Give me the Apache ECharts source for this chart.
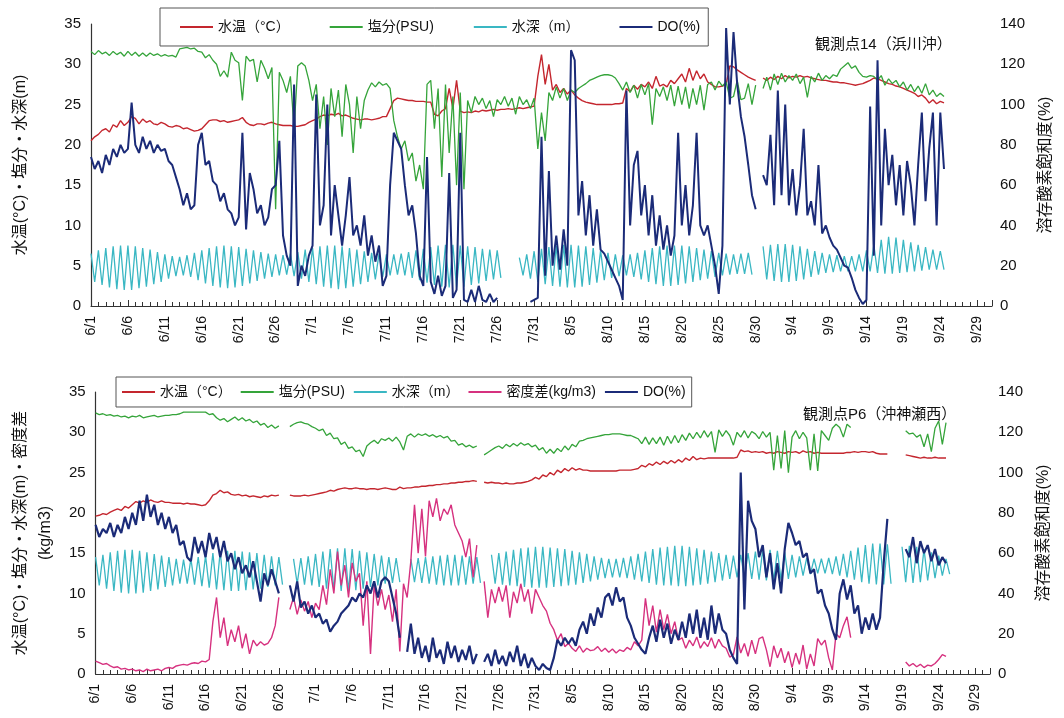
<!DOCTYPE html>
<html>
<head>
<meta charset="utf-8">
<script src="https://cdn.jsdelivr.net/npm/echarts@6/dist/echarts.min.js"></script>
<style>
  html, body { margin: 0; padding: 0; background: #fff; }
  #main { width: 1064px; height: 718px; }
</style>
</head>
<body>
<div id="main"></div>
<script>
// x軸の目盛ラベル (6/1 = 0日目, 5日ごと)
var tickLabels = ['6/1','6/6','6/11','6/16','6/21','6/26','7/1','7/6','7/11','7/16','7/21','7/26',
  '7/31','8/5','8/10','8/15','8/20','8/25','8/30','9/4','9/9','9/14','9/19','9/24','9/29'];

// ---- 観測点14(浜川沖) : 0.5日ごとの値 ----
var topTemp = [
  20.5,21,21.3,21.8,22,21.6,22.5,22.2,23,22.4,
  22.8,23.5,23.3,22.6,23.2,22.8,23,22.6,22.5,22.8,
  22.6,22.3,22.2,22.4,22.3,22,22.1,21.9,21.7,21.8,
  22,22.5,23,23.1,23.1,22.9,23,22.8,22.9,23,
  23.1,23.4,22.8,22.5,22.4,22.6,22.6,22.5,22.7,22.8,
  22.6,22.5,22.4,22.4,22.4,22.3,22.3,22.4,22.5,22.8,
  23,23.2,23.5,23.7,23.6,23.8,23.7,23.9,23.6,23.7,
  23.5,23.3,23.2,23.1,23.2,23.2,23.1,23.2,23.3,23.5,
  23.5,24.5,25.5,25.8,25.7,25.6,25.5,25.5,25.4,25.4,
  25.4,25.3,25.3,23.8,23.6,24.2,24.5,27,24.5,28,
  24.2,24,24.1,24,24.2,24.1,24.3,24.2,24.3,24.4,
  24.3,24.4,24.4,24.5,24.4,24.5,24.6,24.5,24.6,24.7,
  24.8,28.5,31.2,27.5,30,26.8,27.5,26.5,27,26.3,
  26.8,26.2,25.8,25.5,25.3,25.2,25.1,25,25,25,
  25,25,25.1,25.1,25.2,27,26.6,27.4,26.9,27.5,
  27.2,27.8,27,28.5,27.3,27.5,27.2,28,27.6,28.2,
  28.8,27.8,29.5,28,29.2,28.2,28.8,27.8,27.5,27.2,
  27.2,27.3,27.5,29.8,29.7,29.3,29,28.7,28.4,28.2,
  28,null,28.3,28,28.4,28.1,28.5,28.2,28.6,28.3,
  28.5,28.4,28.6,28.4,28.5,28.3,28.2,28.1,28,28,
  27.9,27.8,27.8,27.7,27.7,27.6,27.5,27.4,27.5,27.6,
  27.8,28,28.3,28.2,28,27.8,27.6,27.5,27.3,27.2,
  27,26.8,26.6,26.4,26,26.2,25.8,25.2,25.6,25.1,
  25.4,25.2
];
var topSal = [
  31.6,31.2,31.7,31.3,31.5,31.1,31.6,31.2,31.5,31,
  31.6,31.1,31.5,31,31.4,31,31.4,31.1,31.3,31,
  31.2,31,31.1,30.9,31.9,32,32.1,31.9,32,31.6,
  31.5,30.8,31.2,30.5,30,28.5,29.2,28.4,31.5,30.5,
  30.2,25.5,31,30.4,30.6,27.8,30.5,29.5,28.2,29.6,
  12,29,28,26.5,28.5,22,29.8,30.2,29.8,28,
  25.5,27.5,22,26,20,27,23.5,26.8,21,27.5,
  25,19,26,22,25.5,26.8,27.7,27.2,27.8,27.4,
  27.6,27,23,21,19.5,20.5,18,19,15.5,17.5,
  14.5,27.5,28,22,27,16,27.5,19,26,15,
  26.5,14.5,25.5,24,26,25,25.8,24.5,25.5,23.5,
  25.6,25,26,24.8,25.8,23.8,26,25,25.6,24.5,
  25.8,19.5,24,20.5,26.5,25.5,27.2,25.8,27,25.5,
  26.8,26.5,27,27.3,27.6,28,28.2,28.4,28.6,28.7,
  28.7,28.6,28.3,27.6,26.8,27.8,26.5,27.4,25.8,27.5,
  26.2,27.6,22.5,27,26,27.2,25.5,27.4,24.8,27.3,
  25,27.2,24.5,27,25,27.4,24.3,27.5,27.8,26.8,
  27.9,27.3,27.8,25.8,26,28,25.6,25.8,27.6,25,
  27.4,null,27,28.4,26.8,28.8,27.5,28.9,27.8,28.6,
  28,28.8,27.6,28.4,25.9,28.5,27.8,28.9,28,28.6,
  28.2,28.7,28.5,29.4,29.8,30.2,29.5,29.8,29,28.5,
  28.4,28.6,28.5,28,28.6,27.4,28.2,27.6,28,27.2,
  27.8,26.8,27.5,26.6,27.3,26.4,27.6,26.2,26.8,26,
  26.4,26
];
var topDO = [
  74,68,72,66,75,70,78,74,80,76,
  78,101,80,76,84,78,82,76,80,77,
  78,72,70,64,58,50,56,48,50,80,
  86,70,72,62,60,52,56,48,46,40,
  44,86,38,66,58,46,50,40,44,58,
  60,82,35,25,20,110,10,20,15,25,
  30,105,40,50,100,35,60,45,30,45,
  64,35,40,30,45,25,35,22,30,10,
  15,60,86,82,78,60,45,50,36,15,
  10,74,12,6,15,5,10,66,4,8,
  86,3,2,8,2,10,3,2,6,2,
  4,null,null,null,null,null,null,null,null,2,
  3,4,84,15,67,20,35,18,38,20,
  127,122,45,62,35,55,30,48,28,26,
  22,18,14,10,3,107,40,70,77,45,
  60,35,55,30,45,28,40,25,35,86,
  40,60,35,50,86,40,35,40,30,20,
  6,30,138,100,136,110,94,84,70,55,
  48,null,65,60,85,50,107,55,100,50,
  68,45,60,88,45,52,40,70,36,40,
  34,30,28,24,20,19,14,8,4,1,
  3,99,25,122,40,88,60,75,50,70,
  45,72,60,40,70,96,52,78,96,40,
  96,68
];
// 水深: 1日ごとの満潮側・干潮側
var topDepthHi = [
  6.5,6.9,7.2,7.4,7.5,7.5,7.4,7.2,7,6.7,
  6.4,6.2,6.1,6.3,6.6,6.9,7.2,7.4,7.5,7.4,
  7.3,7.1,6.9,6.7,6.5,6.4,6.3,6.5,6.7,7,
  7.2,7.4,7.5,7.5,7.4,7.2,7,6.8,6.6,6.5,
  6.4,6.4,6.5,6.7,6.9,7.1,7.3,7.5,7.6,7.6,
  7.5,7.4,7.3,7.1,7,6.9,null,null,6,6.4,
  6.8,7.1,7.3,7.5,7.6,7.6,7.5,7.4,7.2,6.9,
  6.6,6.4,6.3,6.4,6.6,6.9,7.2,7.4,7.5,7.5,
  7.5,7.4,7.2,7,6.8,6.6,6.5,6.4,6.5,6.6,
  null,7.4,7.6,7.7,7.7,7.6,7.4,7.1,6.8,6.6,
  6.4,6.3,6.2,6.2,6.4,6.9,7.6,8.2,8.6,8.5,
  8.2,7.9,7.6,7.3,7,6.8
];
var topDepthLo = [
  3,2.6,2.3,2.1,2,2,2.2,2.4,2.7,3,
  3.4,3.7,3.8,3.6,3.2,2.8,2.5,2.3,2.2,2.3,
  2.5,2.8,3.1,3.4,3.6,3.8,3.9,3.7,3.4,3,
  2.7,2.4,2.2,2.1,2.2,2.4,2.7,3,3.3,3.6,
  3.8,3.9,3.8,3.5,3.2,2.9,2.6,2.4,2.3,2.3,
  2.4,2.6,2.8,3.1,3.3,3.5,null,null,3.8,3.4,
  3,2.7,2.5,2.4,2.3,2.3,2.4,2.6,2.9,3.2,
  3.5,3.7,3.8,3.6,3.3,3,2.7,2.5,2.5,2.6,
  2.8,3,3.2,3.4,3.6,3.8,3.9,4,4,3.9,
  null,3.3,3.1,3,3,3.1,3.3,3.6,3.9,4.1,
  4.2,4.3,4.3,4.3,4.3,4.3,4.1,4,4,4.1,
  4.2,4.3,4.4,4.5,4.5,4.5
];

// ---- 観測点P6(沖神瀬西) : 0.5日ごとの値 ----
var btmTemp = [
  19.6,19.7,19.9,19.8,20.1,20.3,20.5,20.3,20.8,20.6,
  21,21.4,21.2,21.5,21.3,21.6,21.4,21.3,21.5,21.3,
  21.3,21.2,21.2,21.2,21.1,21.2,21.1,21.1,21,20.9,
  21,21.5,22.2,22.4,22.8,22.5,22.6,22.3,22.2,22.3,
  22.1,22.2,22,22.1,22,21.9,22.1,22,22.2,22.1,
  22.2,null,null,22.2,22.1,22.1,22.1,22.2,22.1,22.2,
  22.3,22.4,22.5,22.6,22.8,22.7,22.9,23,23.1,23,
  23,23.1,23,23,22.9,23,23,22.9,23,23.1,
  23,22.9,22.9,23.2,23,23.1,23.1,23.2,23.2,23.3,
  23.3,23.4,23.4,23.5,23.5,23.6,23.6,23.7,23.7,23.8,
  23.8,23.9,23.9,24,23.9,null,23.8,23.7,23.8,23.7,
  23.7,23.6,23.7,23.6,23.6,23.7,23.7,23.8,23.9,24.1,
  24.4,24.2,24.7,24.5,25,24.7,25.3,25,25.5,25.2,
  25.6,25.3,25.5,25.3,25.3,25.2,25.2,25.2,25.2,25.2,
  25.2,25.2,25.2,25.3,25.3,25.3,25.3,25.4,25.5,25.9,
  25.7,26.1,25.9,26.3,26,26.4,26.1,26.5,26.2,26.6,
  26.3,26.8,26.5,27,26.6,26.8,26.7,26.8,26.8,26.8,
  26.8,26.8,26.8,26.8,26.8,26.9,27.8,27.6,27.7,27.5,
  27.6,27.5,27.6,27.4,27.5,27.4,27.6,27.5,27.4,27.6,
  27.5,27.6,27.4,27.7,27.5,27.6,27.4,27.5,27.4,27.4,
  27.4,27.4,27.4,27.4,27.4,27.5,27.5,27.6,27.5,27.6,
  27.6,27.5,27.6,27.4,27.3,27.3,27.3,null,null,null,
  null,27.2,27.1,27,26.9,26.8,26.9,26.8,26.8,26.9,
  26.8,26.8,26.8
];
var btmSal = [
  32.4,32.2,32.3,32.1,32.2,32,32.1,31.9,32,31.8,
  32,31.9,32.1,31.8,31.9,32,32.1,31.9,32,32.1,
  32.1,32.2,32.2,32.3,32.5,32.5,32.5,32.5,32.5,32.5,
  32.5,32.2,32.3,31.8,31.5,31.7,31.3,31.6,31.9,31.5,
  31.8,31.4,31.6,31.2,31.4,30.9,31.1,30.6,30.9,30.5,
  30.8,null,null,30.7,31,31.2,31.3,31.1,31,30.7,
  30.5,30.2,30.4,29.6,29.9,29.2,29.3,28.5,28.8,28,
  28.2,27.6,27.8,27,28.3,28.7,29,28.6,29.2,29,
  29.3,28.9,29.4,28.8,27.8,29.5,29.8,29.4,29.8,29.6,
  29.8,29.5,29.7,29.4,29.6,29.3,29.5,28.9,29,28.4,
  28.6,28.2,28.4,28.1,28.3,null,27.2,27.5,27.8,28.1,
  28.3,28,28.5,28.2,28.6,28.3,28.7,28.4,28.6,28.2,
  28.4,27.8,28.1,27.4,27.9,27.4,28,27.6,28.3,27.8,
  28.5,28.2,28.9,29,29.2,29.3,29.4,29.5,29.6,29.7,
  29.7,29.8,29.8,29.8,29.7,29.6,29.6,29.4,29.2,28.6,
  29.4,28.5,29.3,28.6,29.4,28.4,29.5,28.6,29.6,28.7,
  29.7,29,29.9,29.2,30,29.3,30.2,29.4,30.1,27.5,
  30.3,29.5,30.2,29.6,28.4,30,29.4,30.2,29.3,30.1,
  29.8,29.2,30.1,29.4,30,25.3,29.6,25.5,30.2,25,
  29.4,30.2,29.2,30,29.3,25.3,29.8,25.2,30.2,29.6,
  29,30.5,31,30.6,29.4,31,30.6,null,null,null,
  null,null,null,null,null,null,null,null,null,null,
  null,30.2,29.8,29.9,29.4,29.7,28.2,29.8,27.6,30.5,
  31.4,28.5,31.2
];
var btmDens = [
  1.6,1.4,1.2,1.3,1,0.8,0.9,0.6,0.7,0.5,
  0.6,0.4,0.5,0.3,0.6,0.4,0.5,0.6,0.4,0.7,
  0.8,0.7,1,1.1,1.2,1.1,1.3,1.4,1.3,1.6,
  1.5,1.8,6.5,9.5,4.5,7,3.5,5.5,4,6,
  3.2,5,2.5,4.2,3.5,4,3.6,3.8,4.5,6,
  9.5,null,null,8,9.5,7.4,9.2,7.8,9,7,
  8.8,8,11,8.6,13,10,15.2,11,13.5,9.5,
  13.8,11.5,12.5,6,11.5,2.5,11,8.5,10.5,8,
  9.8,6.5,10.5,2.8,11.2,9.5,14,21,15,20.5,
  14.6,21.5,19.5,21.8,19,20.5,19.8,21,18.5,17.5,
  16.5,14.5,16.8,12,16,null,11.5,7,10.5,8.8,
  10.8,9,11,7,10.2,8.8,11.2,9,10.5,7.5,
  10.5,9.5,8.5,7.8,6.3,5.5,4.2,5,3.4,3.8,
  3.2,2.8,3.5,2.7,3.2,2.9,3,3.4,2.8,3.2,
  2.7,3.1,2.6,3,2.8,3.3,3,4,3.5,4.2,
  9.4,6,8.5,5.2,8,5.5,7.4,5,6.5,4.2,
  4.5,3.2,4.2,3.5,4.6,3.2,4,3.4,4.5,3.2,
  4.3,3.5,3.2,2.1,2.4,4.6,2.6,3.8,2.2,4.2,
  2.5,4.4,4.6,3,0.9,3.5,2,3.2,1.4,2.8,
  0.8,2.6,1.2,3.6,0.6,2.5,1,4.4,3.6,4.2,
  2,0.5,5,4.5,6,7.1,4.5,null,null,null,
  null,null,null,null,null,null,null,null,null,null,
  null,1.5,1,1.3,0.9,1.2,0.8,1.1,1,1.3,
  1.8,2.4,2.2
];
var btmDO = [
  74,68,72,70,75,68,74,70,78,72,
  80,74,86,76,89,78,84,74,80,72,
  78,70,74,64,66,58,56,68,60,66,
  58,70,62,68,58,66,56,60,52,58,
  50,54,48,56,46,36,50,44,52,46,
  40,null,null,44,36,46,33,36,30,34,
  28,30,25,27,21,24,26,30,32,34,
  38,36,40,38,44,40,46,38,46,48,
  46,38,30,18,null,11,25,10,18,8,
  14,6,18,8,12,5,16,8,14,6,
  12,7,14,5,10,null,6,10,4,12,
  5,9,4,11,6,14,4,10,3,8,
  4,2,5,3,2,8,17,14,18,15,
  18,14,22,26,20,30,24,33,28,38,
  40,34,43,36,38,28,24,18,15,12,
  10,18,24,16,27,18,25,15,22,17,
  26,18,30,20,32,18,28,17,34,20,
  30,22,20,12,8,5,100,32,86,76,
  72,58,64,48,60,42,55,40,62,75,
  70,64,66,58,60,50,52,40,42,34,
  30,22,17,40,47,37,44,30,34,20,
  28,22,30,22,28,55,77,null,null,null,
  null,62,58,68,55,66,60,64,56,62,
  54,58,55
];
var btmDepthHi = [
  14.5,14.8,15.1,15.3,15.4,15.4,15.3,15.1,14.9,14.7,
  14.5,14.3,14.2,14.3,14.5,14.7,15,15.2,15.3,15.3,
  15.2,15.1,15,14.8,14.6,14.5,null,14.3,14.4,14.6,
  14.9,15.2,15.5,15.6,15.6,15.5,15.3,15.1,14.9,14.7,
  14.5,14.4,null,14.3,14.4,14.5,14.6,14.7,14.8,14.8,
  14.7,14.6,14.5,null,14.8,15,15.2,15.4,15.6,15.7,
  15.8,15.8,15.7,15.6,15.5,15.3,15.1,14.9,14.6,14.4,
  14.3,14.3,14.4,14.6,14.9,15.2,15.5,15.7,15.8,15.9,
  15.9,15.8,15.6,15.4,15.2,15,14.8,14.7,14.8,15,
  15.2,15.4,15.4,15.3,15.1,14.8,14.6,14.4,14.3,14.3,
  14.4,14.6,14.9,15.3,15.7,16,16.2,16.2,16.1,null,
  15.8,15.9,15.8,15.5,15.1,14.7,14.3
];
var btmDepthLo = [
  11,10.6,10.3,10.1,10,10,10.1,10.3,10.5,10.8,
  11,11.2,11.2,11.1,10.9,10.7,10.5,10.4,10.3,10.3,
  10.4,10.5,10.6,10.8,11,11.1,null,11.2,11.1,11,
  10.8,10.6,10.4,10.3,10.3,10.4,10.6,10.8,11,11.2,
  11.3,11.4,null,11.4,11.3,11.2,11.1,11,11,11,
  11.1,11.2,11.3,null,11.2,11.1,11,10.9,10.8,10.7,
  10.7,10.7,10.8,10.9,11,11.1,11.3,11.5,11.7,11.9,
  12,12,11.9,11.7,11.5,11.3,11.1,11,11,10.9,
  10.9,11,11.1,11.2,11.4,11.6,11.8,12,11.9,11.8,
  11.7,11.6,11.6,11.7,11.8,12,12.2,12.4,12.5,12.5,
  12.4,12.2,12,11.7,11.4,11.2,11.1,11.1,11.2,null,
  11.4,11.3,11.4,11.6,11.9,12.2,12.4
];

// ---- グラフ描画 ----
var C_TEMP = '#c4262e', C_SAL = '#35a43a', C_DEPTH = '#3ab7c3', C_DO = '#1b2b78', C_DENS = '#d6317f';
var FONT = '"Liberation Sans", "Noto Sans CJK JP", sans-serif';
var NAME_T = '水温（°C）', NAME_S = '塩分(PSU)', NAME_D = '水深（m）', NAME_R = '密度差(kg/m3)', NAME_O = 'DO(%)';

function halfDay(arr) {
  return arr.map(function (v, i) { return [i / 2, v == null ? '-' : v]; });
}
function tide(hi, lo) {
  var out = [];
  for (var d = 0; d < hi.length; d++) {
    out.push([d, hi[d] == null ? '-' : hi[d]]);
    out.push([d + 0.5, lo[d] == null ? '-' : lo[d]]);
  }
  return out;
}
function line(name, data, color, width, xi, yi) {
  return {
    name: name, type: 'line', data: data, xAxisIndex: xi, yAxisIndex: yi,
    showSymbol: false, symbol: 'none', connectNulls: false,
    lineStyle: { color: color, width: width }, itemStyle: { color: color }
  };
}
function xAxis(gi) {
  return {
    type: 'value', gridIndex: gi, min: 0, max: 122, interval: 5,
    axisLine: { lineStyle: { color: '#333', width: 1.2 } },
    axisTick: { inside: true, length: 6, lineStyle: { color: '#333' } },
    minorTick: { show: true, splitNumber: 5, length: 4, lineStyle: { color: '#333' } },
    splitLine: { show: false },
    axisLabel: {
      rotate: 90, margin: 10, fontSize: 14, color: '#111', fontFamily: FONT,
      formatter: function (v) { return v % 5 === 0 ? (tickLabels[v / 5] || '') : ''; }
    }
  };
}
function leftAxis(gi, name, gap) {
  return {
    type: 'value', gridIndex: gi, min: 0, max: 35, interval: 5, position: 'left',
    name: name, nameLocation: 'middle', nameGap: gap, nameRotate: 90,
    nameTextStyle: { fontSize: 16, color: '#111', fontFamily: FONT, lineHeight: 25 },
    axisLine: { show: true, lineStyle: { color: '#333', width: 1.2 } },
    axisTick: { show: false }, splitLine: { show: false },
    axisLabel: { fontSize: 15, color: '#111', fontFamily: FONT, margin: 10 }
  };
}
function rightAxis(gi) {
  return {
    type: 'value', gridIndex: gi, min: 0, max: 140, interval: 20, position: 'right',
    name: '溶存酸素飽和度(%)', nameLocation: 'middle', nameGap: 46, nameRotate: 90,
    nameTextStyle: { fontSize: 16, color: '#111', fontFamily: FONT },
    axisLine: { show: false }, axisTick: { show: false }, splitLine: { show: false },
    axisLabel: { fontSize: 15, color: '#111', fontFamily: FONT, margin: 8 }
  };
}
function legend(left, top, names, gap, pad) {
  return {
    left: left, top: top, data: names, icon: 'rect', itemWidth: 33, itemHeight: 2,
    itemGap: gap, padding: pad, borderColor: '#555', borderWidth: 1,
    textStyle: { fontSize: 14, color: '#111', fontFamily: FONT },
    selectedMode: false
  };
}

var chart = echarts.init(document.getElementById('main'));
var option = {
  animation: false,
  backgroundColor: '#fff',
  title: [
    { text: '観測点14（浜川沖）', left: 810, top: 32,
      textStyle: { fontSize: 15, fontWeight: 'normal', color: '#111', fontFamily: FONT } },
    { text: '観測点P6（沖神瀬西）', left: 798, top: 402,
      textStyle: { fontSize: 15, fontWeight: 'normal', color: '#111', fontFamily: FONT } }
  ],
  legend: [
    legend(160, 8, [NAME_T, NAME_S, NAME_D, NAME_O], 40, [12, 8, 12, 20]),
    legend(116, 377, [NAME_T, NAME_S, NAME_D, NAME_R, NAME_O], 9, [8, 6, 8, 6])
  ],
  grid: [
    { left: 86, right: 72, top: 24, height: 282 },
    { left: 84, right: 74, top: 392, height: 282 }
  ],
  xAxis: [xAxis(0), xAxis(1)],
  yAxis: [
    leftAxis(0, '水温(°C)・塩分・水深(m)', 58),
    rightAxis(0),
    leftAxis(1, '水温(°C)・塩分・水深(m)・密度差\n(kg/m3)', 34),
    rightAxis(1)
  ],
  series: [
    line(NAME_D, tide(topDepthHi, topDepthLo), C_DEPTH, 1.3, 0, 0),
    line(NAME_T, halfDay(topTemp), C_TEMP, 1.4, 0, 0),
    line(NAME_S, halfDay(topSal), C_SAL, 1.3, 0, 0),
    line(NAME_O, halfDay(topDO), C_DO, 2, 0, 1),
    line(NAME_D, tide(btmDepthHi, btmDepthLo), C_DEPTH, 1.3, 1, 2),
    line(NAME_T, halfDay(btmTemp), C_TEMP, 1.4, 1, 2),
    line(NAME_S, halfDay(btmSal), C_SAL, 1.3, 1, 2),
    line(NAME_R, halfDay(btmDens), C_DENS, 1.4, 1, 2),
    line(NAME_O, halfDay(btmDO), C_DO, 2.2, 1, 3)
  ]
};
chart.setOption(option);
</script>
</body>
</html>
